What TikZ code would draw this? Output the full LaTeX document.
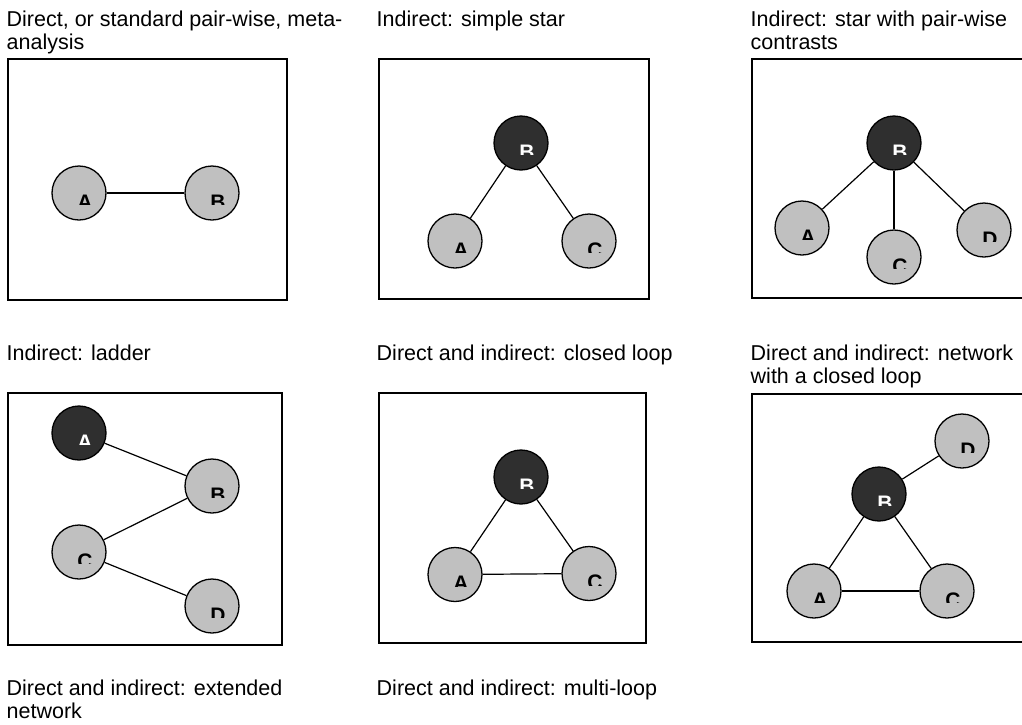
\documentclass[tikz,border=0pt]{standalone}
\usepackage{fontspec}
\setmainfont{Liberation Sans}
\definecolor{nodegray}{HTML}{C0C0C0}
\definecolor{nodedark}{HTML}{2F2F2F}
\tikzset{
  panel/.style={draw=black, line width=1.5pt},
  circ/.style={circle, draw=black, line width=1.3pt, minimum size=54pt, inner sep=0pt},
  graynode/.style={circ, fill=nodegray},
  darknode/.style={circ, fill=nodedark},
  lett/.style={inner sep=0pt, font=\fontsize{21}{21}\selectfont\bfseries},
  edge/.style={draw=black, line width=1.2pt},
  ttl/.style={anchor=base west, inner sep=0pt, font=\fontsize{21.5}{23.5}\selectfont}
}
% #1 name, #2 x, #3 y, #4 letter, #5 node style, #6 letter colour
\newcommand\mknode[6]{%
  \node[#5] (#1) at (#2,#3) {};
  \begin{scope}
    \clip ([shift={(-20,-20)}]#1.center) rectangle ([shift={(25,11.5)}]#1.center);
    \node[lett, text=#6, anchor=north] (#1l) at ([shift={(6,1.5)}]#1.center) {#4};
  \end{scope}}
\begin{document}
\begin{tikzpicture}[x=1pt, y=-1pt]
\useasboundingbox (0,0) rectangle (1022,724);
\clip (0,0) rectangle (1022,724);

% ---------- titles ----------
\node[ttl] (t1a) at (6.5,26) {Direct, or standard pair-wise, meta-};
\node[ttl] (t1b) at (6.5,49.5) {analysis};
\node[ttl] (t2a) at (376.5,26) {Indirect: simple star};
\node[ttl] (t3a) at (750.5,26) {Indirect: star with pair-wise};
\node[ttl] (t3b) at (750.5,49.5) {contrasts};
\node[ttl] (t4a) at (6.5,360) {Indirect: ladder};
\node[ttl] (t5a) at (376.5,360) {Direct and indirect: closed loop};
\node[ttl] (t6a) at (750.5,360) {Direct and indirect: network};
\node[ttl] (t6b) at (750.5,383.5) {with a closed loop};
\node[ttl] (t7a) at (6.5,695) {Direct and indirect: extended};
\node[ttl] (t7b) at (6.5,718.5) {network};
\node[ttl] (t8a) at (376.5,695) {Direct and indirect: multi-loop};

% ---------- panel boxes ----------
\draw[panel] (8,59) rectangle (287,300);
\draw[panel] (379,59) rectangle (649,299);
\draw[panel] (752,59) rectangle (1040,298);
\draw[panel] (8,393) rectangle (282,645);
\draw[panel] (379,393) rectangle (646,643);
\draw[panel] (752,394) rectangle (1040,642);

% ---------- panel 1 ----------
\mknode{pa}{79}{193}{A}{graynode}{black}
\mknode{pb}{212}{193}{B}{graynode}{black}
\draw[edge] (pa) -- (pb);

% ---------- panel 2 ----------
\mknode{sb}{521}{143}{B}{darknode}{white}
\mknode{sa}{455}{241}{A}{graynode}{black}
\mknode{sc}{589}{241}{C}{graynode}{black}
\draw[edge] (sb) -- (sa);
\draw[edge] (sb) -- (sc);

% ---------- panel 3 ----------
\mknode{kb}{894}{143}{B}{darknode}{white}
\mknode{ka}{802}{228}{A}{graynode}{black}
\mknode{kc}{894}{257}{C}{graynode}{black}
\mknode{kd}{984}{230}{D}{graynode}{black}
\draw[edge] (kb) -- (ka);
\draw[edge] (kb) -- (kc);
\draw[edge] (kb) -- (kd);

% ---------- panel 4 ----------
\mknode{la}{79}{433}{A}{darknode}{white}
\mknode{lb}{212}{486}{B}{graynode}{black}
\mknode{lc}{79}{552}{C}{graynode}{black}
\mknode{ld}{212}{606}{D}{graynode}{black}
\draw[edge] (la) -- (lb);
\draw[edge] (lb) -- (lc);
\draw[edge] (lc) -- (ld);

% ---------- panel 5 ----------
\mknode{cb}{521}{477}{B}{darknode}{white}
\mknode{ca}{455}{574.5}{A}{graynode}{black}
\mknode{cc}{589}{573.5}{C}{graynode}{black}
\draw[edge] (cb) -- (ca);
\draw[edge] (cb) -- (cc);
\draw[edge] (ca) -- (cc);

% ---------- panel 6 ----------
\mknode{nd}{962}{441}{D}{graynode}{black}
\mknode{nb}{879}{494}{B}{darknode}{white}
\mknode{na}{814}{591}{A}{graynode}{black}
\mknode{nc}{947}{591}{C}{graynode}{black}
\draw[edge] (nb) -- (nd);
\draw[edge] (nb) -- (na);
\draw[edge] (nb) -- (nc);
\draw[edge] (na) -- (nc);
\end{tikzpicture}
\end{document}
